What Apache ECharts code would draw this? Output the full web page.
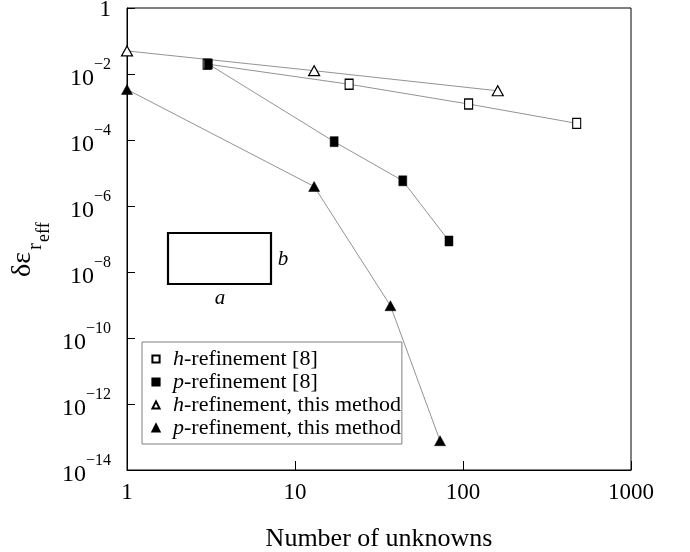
<!DOCTYPE html>
<html>
<head>
<meta charset="utf-8">
<script src="https://cdn.jsdelivr.net/npm/echarts@6/dist/echarts.min.js"></script>
<style>
html,body{margin:0;padding:0;background:#fff;}
#c{width:690px;height:552px;}
</style>
</head>
<body>
<div id="c"></div>
<script>
// ---- data ----
const seriesNames = ['h-refinement [8]', 'p-refinement [8]', 'h-refinement, this method', 'p-refinement, this method'];
const hRef8X = [3, 21, 108, 475];
const hRef8Y = [0.020, 4.9e-3, 1.23e-3, 3.2e-4];
const pRef8X = [3.05, 17.1, 43.8, 82.5];
const pRef8Y = [0.020, 8.9e-5, 5.8e-6, 8.7e-8];
const hThisX = [1, 13, 161];
const hThisY = [0.050, 0.0126, 3.1e-3];
const pThisX = [1, 13, 37, 73];
const pThisY = [3.4e-3, 3.9e-6, 9.5e-10, 7.7e-14];
const xTickValues = [1, 10, 100, 1000];
const yExponents = [0, -2, -4, -6, -8, -10, -12, -14];

const SERIF = "'Liberation Serif', 'Times New Roman', Times, serif";
const pairs = (xs, ys) => xs.map((x, i) => [x, ys[i]]);

const lineStyle = { color: '#777777', width: 0.8 };
function mkSeries(name, xs, ys, symbol, size, filled) {
  return {
    name: name,
    type: 'line',
    data: pairs(xs, ys),
    symbol: symbol,
    symbolSize: size,
    showAllSymbol: true,
    lineStyle: lineStyle,
    itemStyle: filled ? { color: '#000', borderColor: '#000', borderWidth: 0.5 }
                      : { color: '#fff', borderColor: '#000', borderWidth: 1.2 },
    emphasis: { disabled: true },
    z: 3
  };
}

const chart = echarts.init(document.getElementById('c'), null, { renderer: 'canvas' });

const option = {
  animation: false,
  backgroundColor: '#fff',
  grid: { left: 127, right: 59, top: 8, bottom: 82, containLabel: false, outerBoundsMode: 'none',
          show: true, borderColor: '#000', borderWidth: 1, backgroundColor: 'transparent' },
  legend: {
    orient: 'vertical',
    left: 142,
    top: 342,
    padding: [6, 1, 5, 1],
    itemGap: 1,
    itemWidth: 24,
    itemHeight: 9,
    backgroundColor: '#fff',
    borderColor: '#808080',
    borderWidth: 1,
    lineStyle: { opacity: 0 },
    data: seriesNames,
    formatter: function (name) {
      return '{i|' + name.charAt(0) + '}{t|' + name.slice(1) + '}';
    },
    textStyle: {
      color: '#000', fontFamily: SERIF, fontSize: 22, lineHeight: 22,
      rich: {
        i: { fontStyle: 'italic', fontFamily: SERIF, fontSize: 22, color: '#000', lineHeight: 22 },
        t: { fontFamily: SERIF, fontSize: 22, color: '#000', lineHeight: 22 }
      }
    }
  },
  xAxis: {
    type: 'log',
    logBase: 10,
    min: 1,
    max: 1000,
    name: 'Number of unknowns',
    nameLocation: 'middle',
    nameGap: 56,
    nameTextStyle: { fontFamily: SERIF, fontSize: 26, color: '#000' },
    axisLine: { show: true, lineStyle: { color: '#000', width: 1 } },
    axisTick: { show: true, inside: true, length: 9, lineStyle: { color: '#000', width: 1 } },
    minorTick: { show: false },
    splitLine: { show: false },
    axisLabel: {
      margin: 11,
      fontFamily: SERIF, fontSize: 23, color: '#000',
      formatter: function (v) { return String(Math.round(v)); }
    }
  },
  yAxis: {
    type: 'log',
    logBase: 10,
    min: 1e-14,
    max: 1,
    interval: 2,
    axisLine: { show: true, lineStyle: { color: '#000', width: 1 } },
    axisTick: { show: true, inside: true, length: 8, lineStyle: { color: '#000', width: 1 } },
    minorTick: { show: false },
    splitLine: { show: false },
    axisLabel: {
      margin: 16,
      color: '#000',
      fontFamily: SERIF,
      formatter: function (v) {
        const e = Math.round(Math.log10(v));
        if (yExponents.indexOf(e) < 0) return '';
        if (e === 0) return '{one|1}';
        return '{b|10}{s|\u2212' + (-e) + '}';
      },
      rich: {
        one: { fontFamily: SERIF, fontSize: 23, color: '#000', padding: [4, 0, 0, 0] },
        b: { fontFamily: SERIF, fontSize: 24, color: '#000', padding: [9, 0, 0, 0] },
        s: { fontFamily: SERIF, fontSize: 16, color: '#000', padding: [0, 0, 18, 0] }
      }
    }
  },
  series: [
    mkSeries(seriesNames[0], hRef8X, hRef8Y, 'rect', [8, 10], false),
    mkSeries(seriesNames[1], pRef8X, pRef8Y, 'rect', [8, 10], true),
    mkSeries(seriesNames[2], hThisX, hThisY, 'triangle', [11, 10], false),
    mkSeries(seriesNames[3], pThisX, pThisY, 'triangle', [11, 10], true)
  ],
  graphic: [
    // inset waveguide cross-section sketch
    { type: 'rect', shape: { x: 168, y: 233, width: 103, height: 51 }, style: { fill: 'none', stroke: '#000', lineWidth: 2.2 }, z: 5 },
    { type: 'text', x: 283, y: 259, style: { text: 'b', font: 'italic 21px ' + SERIF, fill: '#000', textAlign: 'center', textVerticalAlign: 'middle' }, z: 5 },
    { type: 'text', x: 220, y: 298, style: { text: 'a', font: 'italic 21px ' + SERIF, fill: '#000', textAlign: 'center', textVerticalAlign: 'middle' }, z: 5 },
    // y-axis title  δε_{r_eff}
    {
      type: 'group', x: 23, y: 277, rotation: Math.PI / 2,
      children: [
        { type: 'text', x: 0, y: 0, style: { text: '\u03B4\u03B5', font: '28px ' + SERIF, fill: '#000', textAlign: 'left', textVerticalAlign: 'middle' } },
        { type: 'text', x: 27, y: 12, style: { text: 'r', font: '21px ' + SERIF, fill: '#000', textAlign: 'left', textVerticalAlign: 'middle' } },
        { type: 'text', x: 35, y: 21, style: { text: 'eff', font: '18px ' + SERIF, fill: '#000', textAlign: 'left', textVerticalAlign: 'middle' } }
      ]
    }
  ]
};
chart.setOption(option);
</script>
</body>
</html>
